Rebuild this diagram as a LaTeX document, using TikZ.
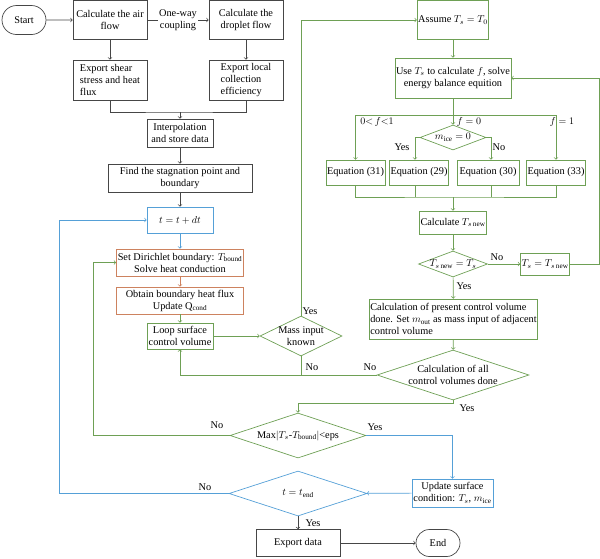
\documentclass[tikz,border=0pt]{standalone}
\usepackage{fontspec}
\setmainfont{Liberation Serif}
\usepackage{amsmath}
\usetikzlibrary{shapes.geometric, shapes.misc}
\definecolor{gline}{RGB}{110,160,85}
\definecolor{bline}{RGB}{85,160,215}
\definecolor{oline}{RGB}{205,130,95}
\definecolor{kline}{RGB}{70,70,70}

\begin{document}
\begin{tikzpicture}[x=1pt,y=-1pt,font=\fontsize{10.3}{12}\selectfont,line width=0.7pt]
					\tikzstyle{kbox} = [rectangle,draw=kline,align=center,inner sep=1pt]
					\tikzstyle{gbox} = [rectangle,draw=gline,align=center,inner sep=1pt]
					\tikzstyle{bbox} = [rectangle,draw=bline,align=center,inner sep=1pt]
					\tikzstyle{obox} = [rectangle,draw=oline,align=center,inner sep=1pt]
					\tikzstyle{gdia} = [diamond,draw=gline,inner sep=0pt]
					\tikzstyle{bdia} = [diamond,draw=bline,inner sep=0pt]
					\tikzstyle{term} = [rounded rectangle,draw=kline,inner sep=1pt]
					\tikzstyle{kedge} = [->,draw=kline]
					\tikzstyle{gedge} = [->,draw=gline]
					\tikzstyle{bedge} = [->,draw=bline]
					\tikzstyle{oedge} = [->,draw=oline]
					\tikzstyle{lbl} = [inner sep=0pt]
					\useasboundingbox (0,0) rectangle (600,558);
					% left column
					\node[term,minimum width=46,minimum height=29] (n1) at (24,20) {Start};
					\node[kbox,minimum width=74,minimum height=39] (n2) at (110,20) {Calculate the air\\flow};
					\node[kbox,minimum width=74,minimum height=39] (n3) at (246,20) {Calculate the\\droplet flow};
					\node[kbox,minimum width=74,minimum height=40,align=left] (n4) at (110,80) {Export shear\\stress and heat\\flux};
					\node[kbox,minimum width=74,minimum height=40,align=left] (n5) at (246,80) {Export local\\collection\\efficiency};
					\node[kbox,minimum width=66,minimum height=28] (n6) at (180,133) {Interpolation\\and store data};
					\node[kbox,minimum width=144,minimum height=28] (n7) at (180,178) {Find the stagnation point and\\boundary};
					\node[bbox,minimum width=66,minimum height=26] (n8) at (180,220) {$t = t + dt$};
					\node[obox,minimum width=127,minimum height=27] (n9) at (180,262.5) {Set Dirichlet boundary: $T_{\mathrm{bound}}$\\Solve heat conduction};
					\node[obox,minimum width=127,minimum height=27] (n10) at (180,300.5) {Obtain boundary heat flux\\Update Q$_{\mathrm{cond}}$};
					\node[gbox,minimum width=66,minimum height=26] (n11) at (180,336) {Loop surface\\control volume};
					\node[gdia,minimum width=82,minimum height=40,label={[align=center]center:Mass input\\known}] (n12) at (301,336) {};
					% right column
					\node[gbox,minimum width=70,minimum height=39] (n13) at (453,20) {Assume $T_s = T_0$};
					\node[gbox,minimum width=114,minimum height=40] (n14) at (453,78) {Use $T_s$ to calculate $f$, solve\\energy balance equition};
					\node[gdia,minimum width=66,minimum height=25,label={center:$m_{\mathrm{ice}} = 0$}] (n15) at (453,137.5) {};
					\node[gbox,minimum width=57,minimum height=25] (n16) at (355.5,172.5) {Equation (31)};
					\node[gbox,minimum width=59,minimum height=25] (n17) at (419,172.5) {Equation (29)};
					\node[gbox,minimum width=62,minimum height=25] (n18) at (488,172.5) {Equation (30)};
					\node[gbox,minimum width=58,minimum height=25] (n19) at (556,172.5) {Equation (33)};
					\node[gbox,minimum width=67,minimum height=23] (n20) at (453,222.5) {Calculate $T_{s\,\mathrm{new}}$};
					\node[gdia,minimum width=69,minimum height=26,label={center:$T_{s\,\mathrm{new}} = T_s$}] (n21) at (453,264) {};
					\node[gbox,minimum width=46,minimum height=22] (n22) at (545,264) {$T_s = T_{s\,\mathrm{new}}$};
					\node[gbox,minimum width=167,minimum height=40,align=left] (n23) at (453.5,319) {Calculation of present control volume\\done. Set $m_{\mathrm{out}}$ as mass input of adjacent\\control volume};
					\node[gdia,minimum width=152,minimum height=50,label={[align=center]center:Calculation of all\\control volumes done}] (n24) at (453,375) {};
					% bottom
					\node[gdia,minimum width=136,minimum height=45,label={center:Max$|T_s$-$T_{\mathrm{bound}}|$<eps}] (n25) at (298,435.5) {};
					\node[bbox,minimum width=81,minimum height=28] (n26) at (452.5,493) {Update surface\\condition: $T_s$, $m_{\mathrm{ice}}$};
					\node[bdia,minimum width=138,minimum height=45,label={center:$t = t_{\mathrm{end}}$}] (n27) at (298,493.5) {};
					\node[kbox,minimum width=84,minimum height=27] (n28) at (298,543) {Export data};
					\node[term,minimum width=46,minimum height=27] (n29) at (438,543) {End};
					% junctions
					\coordinate (j1) at (180,112);
					\coordinate (j3) at (453,115);
					\coordinate (j4) at (453,197);
					\coordinate (c1) at (599,264);
					\coordinate (c2) at (453,403);
					\coordinate (c3) at (93,435.5);
					\coordinate (c4) at (59,493.5);
					% labels
					\node[lbl] (l1) at (310,311) {Yes};
					\node[lbl] (l2) at (312,367) {No};
					\node[lbl] (l3) at (370,367) {No};
					\node[lbl] (l4) at (467,408) {Yes};
					\node[lbl] (l5) at (377,122) {$0{<}\,f{<}1$};
					\node[lbl] (l6) at (469,122) {$f = 0$};
					\node[lbl] (l7) at (562,122) {$f = 1$};
					\node[lbl] (l8) at (402,147) {Yes};
					\node[lbl] (l9) at (499,147) {No};
					\node[lbl] (l10) at (497,257) {No};
					\node[lbl] (l11) at (464,286) {Yes};
					\node[lbl] (l12) at (217,425) {No};
					\node[lbl] (l13) at (375,427) {Yes};
					\node[lbl] (l14) at (205,487) {No};
					\node[lbl] (l15) at (313,523) {Yes};
					% edges
					\draw[kedge] (n1)--(n2);
					\draw[kedge] (n2)--(n3) node[midway,fill=white,align=center,inner sep=1pt] (l0) {One-way\\coupling};
					\draw[kedge] (n2)--(n4);
					\draw[kedge] (n3)--(n5);
					\draw[draw=kline] (n4.south) |- (j1) -| (n5.south);
					\draw[kedge] (j1)--(n6);
					\draw[kedge] (n6)--(n7);
					\draw[kedge] (n7)--(n8);
					\draw[bedge] (n8)--(n9);
					\draw[oedge] (n9)--(n10);
					\draw[gedge] (n10)--(n11);
					\draw[gedge] (n11)--(n12);
					\draw[gedge] (n12.north) |- (n13.west);
					\draw[draw=gline] (n12.south)--(n12.south |- n24.west);
					\draw[gedge] (n24.west) -| (n11.south);
					\draw[gedge] (n13)--(n14);
					\draw[gedge] (n14)--(n15);
					\draw[draw=gline] (n16.north |- j3)--(n19.north |- j3);
					\draw[gedge] (n16.north |- j3)--(n16.north);
					\draw[gedge] (n19.north |- j3)--(n19.north);
					\draw[gedge] (n15.west) -| ([xshift=-4pt]n17.north);
					\draw[gedge] (n15.east) -| ([xshift=3pt]n18.north);
					\draw[draw=gline] (n16.south) |- (j4) -| (n19.south);
					\draw[draw=gline] ([xshift=-4pt]n17.south)--([xshift=-4pt]n17.south |- j4);
					\draw[draw=gline] ([xshift=3pt]n18.south)--([xshift=3pt]n18.south |- j4);
					\draw[gedge] (j4)--(n20);
					\draw[gedge] (n20)--(n21);
					\draw[gedge] (n21)--(n22);
					\draw[gedge] (n22.east)--(c1) |- (n14.east);
					\draw[gedge] (n21)--(n23);
					\draw[gedge] (n23)--(n24);
					\draw[gedge] (n24.south)--(c2) -| (n25.north);
					\draw[gedge] (n25.west)--(c3) |- (n9.west);
					\draw[bedge] (n25.east) -| (n26.north);
					\draw[bedge] (n26)--(n27);
					\draw[bedge] (n27.west)--(c4) |- (n8.west);
					\draw[kedge] (n27)--(n28);
					\draw[kedge] (n28)--(n29);
\end{tikzpicture}
\end{document}
